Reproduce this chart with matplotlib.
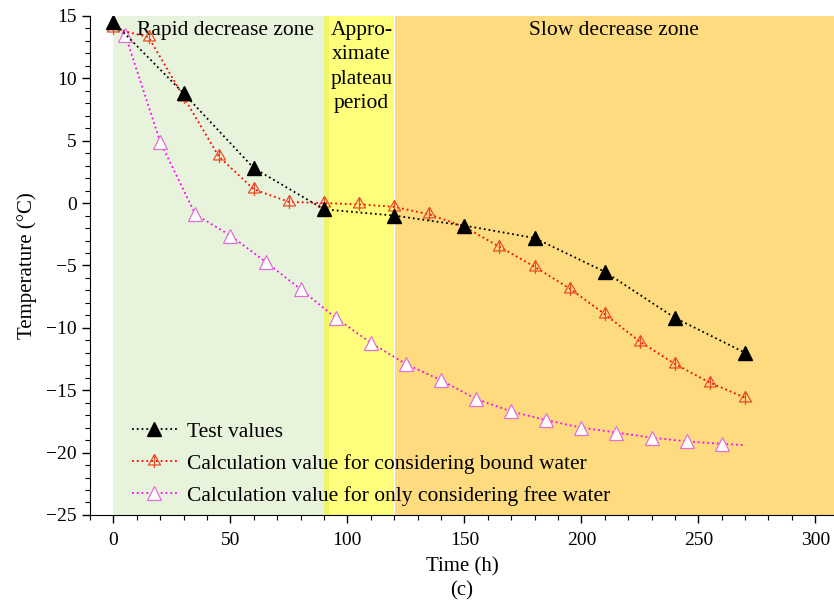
import matplotlib
matplotlib.use("Agg")
import matplotlib.pyplot as plt
from matplotlib.path import Path
import numpy as np

plt.rcParams['font.family'] = ['Liberation Serif', 'DejaVu Serif']

# test values
t_test = [0, 30, 60, 90, 120, 150, 180, 210, 240, 270]
T_test = [14.5, 8.8, 2.8, -0.5, -1.0, -1.8, -2.8, -5.5, -9.2, -12.0]

# calculation considering bound water
t_bound = [0, 15, 30, 45, 60, 75, 90, 105, 120, 135, 150, 165, 180, 195, 210, 225, 240, 255, 270]
T_bound = [14.0, 13.3, 8.5, 3.75, 1.1, 0.1, 0.0, -0.1, -0.3, -0.9, -1.9, -3.5, -5.1,
           -6.85, -8.9, -11.1, -12.9, -14.4, -15.6]

# calculation considering only free water
t_free = [0, 5, 20, 35, 50, 65, 80, 95, 110, 125, 140, 155, 170, 185, 200, 215, 230, 245, 260, 270]
T_free = [14.0, 13.5, 4.9, -0.9, -2.6, -4.7, -6.9, -9.2, -11.2, -12.9, -14.2, -15.7, -16.7,
          -17.4, -18.0, -18.4, -18.8, -19.1, -19.3, -19.4]

zones = [(0, 90, '#e8f3dc'), (90, 120, '#fefe7c'), (120, 320, '#fedb7e')]
zone_labels = ['Rapid decrease zone', 'Appro-\nximate\nplateau\nperiod', 'Slow decrease zone']
zone_x = [48, 106, 214]

# triangle with a vertical stroke for bound water marker
tri_verts = [(0, 1), (-0.87, -0.5), (0.87, -0.5), (0, 1), (0, 1), (0, -0.95)]
tri_codes = [Path.MOVETO, Path.LINETO, Path.LINETO, Path.CLOSEPOLY, Path.MOVETO, Path.LINETO]
tri_bar = Path(tri_verts, tri_codes)

fig = plt.figure(figsize=(8.34, 6.03), dpi=100)
ax = fig.add_axes([0.108, 0.146, 0.892, 0.8275])

for (a, b, c) in zones:
    ax.axvspan(a, b, color=c, lw=0, zorder=0)
ax.axvspan(90, 92, color='#eef56a', lw=0, zorder=0)
ax.axvline(120, color='white', lw=0.8, zorder=0.5)

ax.plot(t_test, T_test, ls=':', c='black', lw=1.3, marker='^', ms=9.5,
        mfc='black', mec='black', label='Test values', zorder=5)
ax.plot(t_bound, T_bound, ls=':', c='red', lw=1.3, marker=tri_bar, ms=10,
        mfc='none', mec='#e8502a', mew=0.9, label='Calculation value for considering bound water', zorder=4)
ax.plot(t_free, T_free, ls=':', c='#ff00ff', lw=1.3, marker='^', ms=10,
        mfc='white', mec='#e070d8', mew=0.9, markevery=list(range(1, 19)),
        label='Calculation value for only considering free water', zorder=3)

for lab, x in zip(zone_labels, zone_x):
    ax.text(x, 14.6, lab, ha='center', va='top', fontsize=15.5, linespacing=1.38)

ax.set_xlim(-10, 308)
ax.set_ylim(-25, 15)
ax.set_xticks([0, 50, 100, 150, 200, 250, 300])
ax.set_xticks(np.arange(-10, 310, 10), minor=True)
ax.set_yticks([-25, -20, -15, -10, -5, 0, 5, 10, 15])
ax.set_yticks(np.arange(-25, 16, 1), minor=True)
ax.set_yticklabels(['\u221225', '\u221220', '\u221215', '\u221210', '\u22125', '0', '5', '10', '15'])
ax.tick_params(labelsize=14, direction='out', length=6, width=1)
ax.tick_params(axis='x', pad=6.5)
ax.tick_params(which='minor', length=3.5, width=0.8)
ax.spines['top'].set_visible(False)
ax.spines['right'].set_visible(False)

ax.set_xlabel('Time (h)\n(c)', fontsize=15, linespacing=1.3, labelpad=6)
ax.set_ylabel('Temperature (\u00b0C)', fontsize=15, labelpad=7)

ax.legend(loc='lower left', bbox_to_anchor=(0.03, -0.02), frameon=False, fontsize=15.5,
          handlelength=2.1, handletextpad=0.45, labelspacing=0.55)

fig.savefig('out.png', dpi=100)
